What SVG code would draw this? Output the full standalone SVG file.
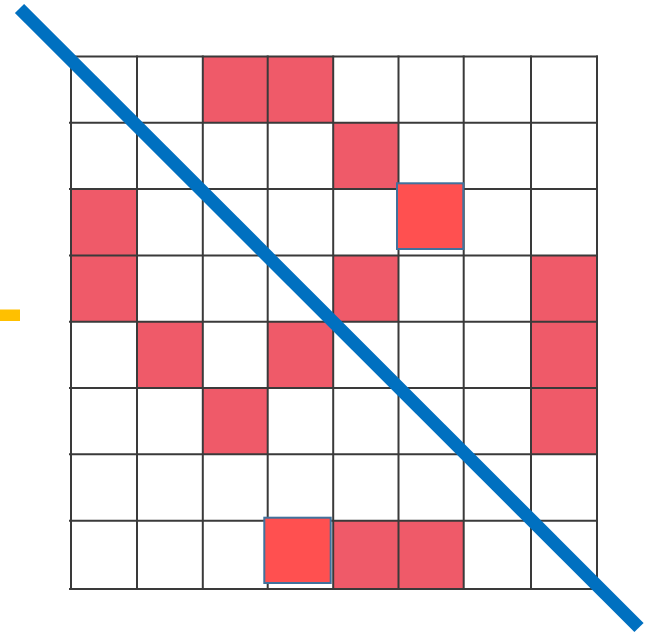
<svg xmlns="http://www.w3.org/2000/svg" width="649" height="633" viewBox="0 0 649 633">
<style>
.cell{fill:#EF5A69;}
.grid line{stroke:#3a3a3a;stroke-width:2;}
.hl{fill:#FF5050;stroke:#41719C;stroke-width:2;}
</style>
<rect width="649" height="633" fill="#ffffff"/>
<g id="cells">
<rect class="cell" x="202.8" y="56.5" width="64.9" height="66.3"/>
<rect class="cell" x="267.7" y="56.5" width="65.5" height="66.3"/>
<rect class="cell" x="333.2" y="122.8" width="65.3" height="66.2"/>
<rect class="cell" x="71" y="189" width="66" height="66.5"/>
<rect class="cell" x="71" y="255.5" width="66" height="66.2"/>
<rect class="cell" x="333.2" y="255.5" width="65.3" height="66.2"/>
<rect class="cell" x="531" y="255.5" width="66" height="66.2"/>
<rect class="cell" x="137" y="321.7" width="65.8" height="66.3"/>
<rect class="cell" x="267.7" y="321.7" width="65.5" height="66.3"/>
<rect class="cell" x="531" y="321.7" width="66" height="66.3"/>
<rect class="cell" x="202.8" y="388" width="64.9" height="66.2"/>
<rect class="cell" x="531" y="388" width="66" height="66.2"/>
<rect class="cell" x="333.2" y="520.7" width="65.3" height="68.3"/>
<rect class="cell" x="398.5" y="520.7" width="65.2" height="68.3"/>
</g>
<g id="grid" class="grid">
<line x1="69" y1="56.5" x2="598" y2="56.5"/>
<line x1="69" y1="122.8" x2="598" y2="122.8"/>
<line x1="69" y1="189" x2="598" y2="189"/>
<line x1="69" y1="255.5" x2="598" y2="255.5"/>
<line x1="69" y1="321.7" x2="598" y2="321.7"/>
<line x1="69" y1="388" x2="598" y2="388"/>
<line x1="69" y1="454.2" x2="598" y2="454.2"/>
<line x1="69" y1="520.7" x2="598" y2="520.7"/>
<line x1="69" y1="589" x2="598" y2="589"/>
<line x1="71" y1="55.5" x2="71" y2="590"/>
<line x1="137" y1="55.5" x2="137" y2="590"/>
<line x1="202.8" y1="55.5" x2="202.8" y2="590"/>
<line x1="267.7" y1="55.5" x2="267.7" y2="590"/>
<line x1="333.2" y1="55.5" x2="333.2" y2="590"/>
<line x1="398.5" y1="55.5" x2="398.5" y2="590"/>
<line x1="463.7" y1="55.5" x2="463.7" y2="590"/>
<line x1="531" y1="55.5" x2="531" y2="590"/>
<line x1="597" y1="55.5" x2="597" y2="590"/>
</g>
<g id="highlights">
<rect class="hl" x="397" y="183.3" width="66.3" height="65.7"/>
<rect class="hl" x="264.3" y="517.7" width="66.4" height="65.3"/>
</g>
<g id="marker">
<rect x="0" y="309.5" width="20" height="11.5" fill="#FFC000"/>
</g>
<g id="diagonal">
<line x1="19.5" y1="8.5" x2="639" y2="627.5" stroke="#0070C0" stroke-width="13"/>
</g>
</svg>
